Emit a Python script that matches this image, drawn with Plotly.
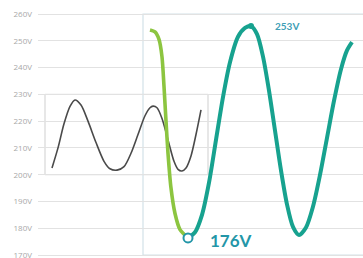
import plotly.graph_objects as go

# Y axis ticks
tick_vals = [170, 180, 190, 200, 210, 220, 230, 240, 250, 260]
tick_text = [f"{v}V" for v in tick_vals]

# Inset (reference) sine wave
inset_x = [52, 58, 64, 70, 75, 81, 88, 96, 104, 110, 117, 124, 131, 138, 145, 150, 153,
           157, 162, 168, 174, 178, 182, 186, 191, 196, 201]
inset_v = [202.5, 210, 219, 225.5, 227.9, 226, 220, 212, 205, 202.2, 201.7, 203, 208, 215,
           222, 225, 225.6, 225, 221, 213, 205, 202, 201.4, 202.5, 207, 215, 224.2]

# Green drop segment
green_x = [150, 155, 159, 162, 164, 166, 168, 171, 175, 180, 188]
green_v = [254.0, 253.3, 250.5, 244, 233, 220, 208, 195, 185.5, 179.5, 176.4]

# Teal oscillation
teal_x = [188, 195, 202, 209, 216, 223, 230, 238, 245, 251, 257, 263, 269, 275, 281, 287,
          293, 299, 306, 313, 320, 327, 334, 341, 347, 352]
teal_v = [176.4, 178.5, 185, 197, 213, 229, 242, 251.5, 254.8, 255.5, 252.5, 244.1, 231.4,
          216.5, 201.6, 188.9, 180.5, 177.5, 180.3, 188.1, 199.9, 213.75, 227.6, 239.4,
          246.4, 249.5]

min_x, min_v, min_label = [188], [176.4], "176V"
max_x, max_v, max_label = [251], [255.5], "253V"

GREEN = "#8cc540"
TEAL = "#17a28f"
BLUE_TEAL = "#2396a8"

fig = go.Figure()

fig.add_trace(go.Scatter(x=inset_x, y=inset_v, mode="lines",
                         line=dict(color="#4a4a4a", width=1.6, shape="spline", smoothing=0.8),
                         hoverinfo="skip"))
fig.add_trace(go.Scatter(x=teal_x, y=teal_v, mode="lines",
                         line=dict(color=TEAL, width=4, shape="spline", smoothing=0.8),
                         hoverinfo="skip"))
fig.add_trace(go.Scatter(x=green_x, y=green_v, mode="lines",
                         line=dict(color=GREEN, width=3.6, shape="spline", smoothing=0.7),
                         hoverinfo="skip"))
fig.add_trace(go.Scatter(x=min_x, y=min_v, mode="markers",
                         marker=dict(size=9, color="white", line=dict(color=BLUE_TEAL, width=2)),
                         hoverinfo="skip"))
fig.add_trace(go.Scatter(x=max_x, y=max_v, mode="markers",
                         marker=dict(size=6, color=TEAL), hoverinfo="skip"))

# Frames
fig.add_shape(type="rect", xref="x", yref="y", x0=45, x1=208, y0=200, y1=230,
              line=dict(color="#cfcfcf", width=1), layer="below")
fig.add_shape(type="rect", xref="x", yref="y", x0=143, x1=370, y0=170, y1=260,
              line=dict(color="#d3e2e8", width=1.2), layer="below")

fig.add_annotation(x=min_x[0], y=min_v[0], text=f"<b>{min_label}</b>", showarrow=False,
                   xanchor="left", yanchor="middle", xshift=20, yshift=-3,
                   font=dict(size=17, color=BLUE_TEAL, family="Lato"))
fig.add_annotation(x=max_x[0], y=max_v[0], text=f"<b>{max_label}</b>", showarrow=False,
                   xanchor="left", yanchor="middle", xshift=22, yshift=0,
                   font=dict(size=10, color="#3f9fb6", family="Lato"))

fig.update_layout(
    width=363, height=258,
    margin=dict(l=38, r=0, t=0, b=0),
    paper_bgcolor="white", plot_bgcolor="white",
    showlegend=False,
    xaxis=dict(range=[38, 363], visible=False, fixedrange=True),
    yaxis=dict(range=[168.89, 265.23], tickvals=tick_vals, ticktext=tick_text,
               showgrid=True, gridcolor="#e2e2e2", gridwidth=1, zeroline=False,
               showline=False, ticks="", ticklabelstandoff=5, automargin=False,
               ticklabeloverflow="allow",
               tickfont=dict(size=8, color="#a8a8a8", family="Open Sans")),
)

fig.write_html("out.html", config={"displayModeBar": False},
               post_script="document.body.style.margin='0';document.body.style.padding='0';")
